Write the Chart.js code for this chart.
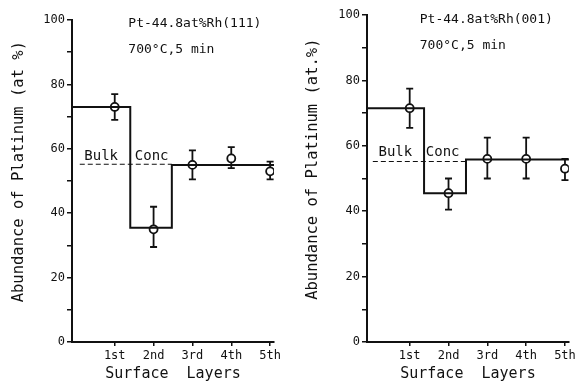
<!DOCTYPE html>
<html>
<head>
<meta charset="utf-8">
<script src="https://cdn.jsdelivr.net/npm/chart.js@4"></script>
<style>
  html, body { margin: 0; padding: 0; background: #fff; }
  #wrap { position: relative; width: 579px; height: 383px; }
  .panel { position: absolute; top: 0; height: 383px; }
</style>
</head>
<body>
<div id="wrap">
  <div class="panel" style="left:0;width:290px"><canvas id="leftChart"></canvas></div>
  <div class="panel" style="left:290px;width:289px"><canvas id="rightChart"></canvas></div>
</div>
<script>
// surface layers (x positions) and their labels
const layers = [1, 2, 3, 4, 5];
const layerLabels = ['1st', '2nd', '3rd', '4th', '5th'];
const yTicks = [0, 20, 40, 60, 80, 100];

// Pt-44.8at%Rh(111)
const leftVals = [73, 35, 55, 57, 53];
const leftHi = [77, 42, 59.5, 60.5, 56];
const leftLo = [69, 29.5, 50.5, 54, 50.5];
const leftStepX = [-0.1, 1.4, 2.47, 5.1];
const leftStepY = [73, 35.5, 55, 55];

// Pt-44.8at%Rh(001)
const rightVals = [71.5, 45.5, 56, 56, 53];
const rightHi = [77.5, 50, 62.5, 62.5, 56];
const rightLo = [65.5, 40.5, 50, 50, 49.5];
const rightStepX = [-0.1, 1.37, 2.45, 5.1];
const rightStepY = [71.5, 45.5, 55.8, 55.8];

const bulkConc = 55.2;
const FONT = '"DejaVu Sans Mono", monospace';

// error bars, captions drawn with the chart's own scales
const extras = {
  id: 'extras',
  beforeDatasetsDraw(chart, args, opts) {
    const { ctx, scales: { x, y } } = chart;
    ctx.save();
    ctx.strokeStyle = '#111';
    ctx.lineWidth = 1.8;
    opts.vals.forEach((v, i) => {
      const px = x.getPixelForValue(layers[i]);
      const top = y.getPixelForValue(opts.hi[i]);
      const bot = y.getPixelForValue(opts.lo[i]);
      ctx.beginPath();
      ctx.moveTo(px, top); ctx.lineTo(px, bot);
      ctx.moveTo(px - 3.5, top); ctx.lineTo(px + 3.5, top);
      ctx.moveTo(px - 3.5, bot); ctx.lineTo(px + 3.5, bot);
      ctx.stroke();
    });
    ctx.restore();
  },
  afterDraw(chart, args, opts) {
    const { ctx, scales: { x, y } } = chart;
    ctx.save();
    ctx.fillStyle = '#111';
    ctx.textBaseline = 'middle';
    ctx.font = '13px ' + FONT;
    ctx.textAlign = 'left';
    ctx.fillText(opts.title, x.getPixelForValue(opts.titleX), y.getPixelForValue(opts.titleY[0]));
    ctx.fillText('700°C,5 min', x.getPixelForValue(opts.titleX), y.getPixelForValue(opts.titleY[1]));
    ctx.font = '14px ' + FONT;
    ctx.textAlign = 'center';
    ctx.fillText('Bulk', x.getPixelForValue(opts.bulkLabelX[0]), y.getPixelForValue(opts.bulkLabelY));
    ctx.fillText('Conc', x.getPixelForValue(opts.bulkLabelX[1]), y.getPixelForValue(opts.bulkLabelY));
    ctx.restore();
  }
};

function makeChart(id, cfg) {
  const pts = layers.map((l, i) => ({ x: l, y: cfg.vals[i] }));
  const step = cfg.stepX.map((sx, i) => ({ x: sx, y: cfg.stepY[i] }));
  const bulk = cfg.bulkX.map(bx => ({ x: bx, y: bulkConc }));

  return new Chart(document.getElementById(id), {
    type: 'scatter',
    data: {
      datasets: [
        {
          type: 'line', data: bulk, borderColor: '#111', borderWidth: 1.2,
          borderDash: [5, 3], pointRadius: 0, fill: false
        },
        {
          type: 'line', data: step, stepped: true, borderColor: '#111', borderWidth: 2,
          pointRadius: 0, fill: false, clip: false
        },
        {
          data: pts, pointRadius: 4, pointBackgroundColor: '#fff',
          pointBorderColor: '#111', pointBorderWidth: 1.8
        }
      ]
    },
    options: {
      responsive: false,
      animation: false,
      events: [],
      layout: { padding: { top: cfg.top, right: cfg.right, left: 0, bottom: 0 } },
      plugins: {
        legend: { display: false },
        tooltip: { enabled: false },
        extras: {
          vals: cfg.vals, hi: cfg.hi, lo: cfg.lo, title: cfg.title,
          titleX: cfg.titleX, titleY: cfg.titleY,
          bulkLabelX: cfg.bulkLabelX, bulkLabelY: cfg.bulkLabelY
        }
      },
      scales: {
        x: {
          type: 'linear', min: -0.1, max: 5.1,
          afterBuildTicks: s => { s.ticks = layers.map(v => ({ value: v })); },
          afterFit: s => { s.height = 383 - cfg.bottom; },
          border: { color: '#111', width: 2 },
          grid: { drawOnChartArea: false, color: '#111', lineWidth: 1.5, tickLength: 4 },
          ticks: {
            color: '#111', font: { family: FONT, size: 12 }, padding: 3, maxRotation: 0,
            callback: v => layerLabels[layers.indexOf(v)] ?? ''
          },
          title: {
            display: true, text: 'Surface  Layers', color: '#111',
            font: { family: FONT, size: 15 }, padding: { top: 0, bottom: 0 }
          }
        },
        y: {
          min: 0, max: 100,
          afterFit: s => { s.width = cfg.axisX; },
          border: { color: '#111', width: 2 },
          grid: { drawOnChartArea: false, color: '#111', lineWidth: 1.5, tickLength: 5 },
          ticks: {
            stepSize: 10, color: '#111', font: { family: FONT, size: 12 }, padding: 2,
            callback: v => (yTicks.includes(v) ? v : '')
          },
          title: {
            display: true, text: cfg.yTitle, color: '#111',
            font: { family: FONT, size: 15.5 }, padding: { top: cfg.yTitlePad, bottom: 0 }
          }
        }
      }
    },
    plugins: [extras]
  });
}

function sizeCanvas(id, w, h) {
  const c = document.getElementById(id);
  c.width = w; c.height = h;
  c.style.width = w + 'px'; c.style.height = h + 'px';
}

sizeCanvas('leftChart', 290, 383);
sizeCanvas('rightChart', 289, 383);

makeChart('leftChart', {
  vals: leftVals, hi: leftHi, lo: leftLo, stepX: leftStepX, stepY: leftStepY,
  bulkX: [0.1, 2.47], title: 'Pt-44.8at%Rh(111)', titleX: 1.35, titleY: [98.8, 90.7],
  bulkLabelX: [0.65, 1.95], bulkLabelY: 57.6,
  yTitle: '  Abundance of Platinum (at %)', yTitlePad: 10,
  axisX: 72, top: 20, right: 16, bottom: 342
});

makeChart('rightChart', {
  vals: rightVals, hi: rightHi, lo: rightLo, stepX: rightStepX, stepY: rightStepY,
  bulkX: [0.05, 2.45], title: 'Pt-44.8at%Rh(001)', titleX: 1.26, titleY: [98.5, 90.5],
  bulkLabelX: [0.63, 1.85], bulkLabelY: 57.9,
  yTitle: '  Abundance of Platinum (at.%)', yTitlePad: 14,
  axisX: 77, top: 15, right: 10, bottom: 342
});
</script>
</body>
</html>
